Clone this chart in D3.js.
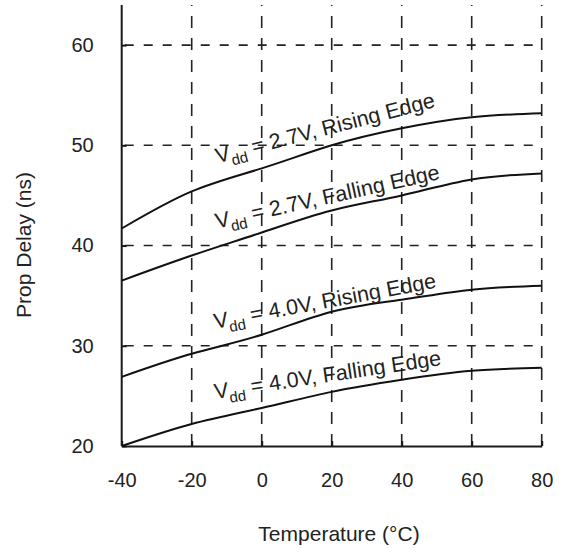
<!DOCTYPE html>
<html>
<head>
<meta charset="utf-8">
<script src="https://d3js.org/d3.v7.min.js"></script>
<style>
  body { margin: 0; background: #fff; }
  svg { display: block; font-family: "Liberation Sans", Arial, sans-serif; }
  .axis-line { stroke: #1a1a1a; stroke-width: 2; fill: none; }
  .grid { stroke: #222; stroke-width: 1.6; fill: none; }
  .curve { stroke: #111; stroke-width: 2; fill: none; }
  .tick-label, .title, .note { fill: #222; }
</style>
</head>
<body>
<div id="chart"></div>
<script>
// data
var temps = [-40, -20, 0, 20, 40, 60, 80];
var rise27 = [41.7, 45.4, 47.7, 50.0, 51.7, 52.8, 53.2];
var fall27 = [36.5, 39.0, 41.3, 43.5, 45.0, 46.6, 47.2];
var rise40 = [26.9, 29.2, 31.1, 33.4, 34.6, 35.6, 36.0];
var fall40 = [20.0, 22.2, 23.8, 25.4, 26.6, 27.5, 27.8];
var xTicks = [-40, -20, 0, 20, 40, 60, 80];
var yTicks = [20, 30, 40, 50, 60];
var seriesNames = ["2.7V, Rising Edge", "2.7V, Falling Edge", "4.0V, Rising Edge", "4.0V, Falling Edge"];

var width = 565, height = 552;
var margin = { top: 5, left: 121.7, right: 23.3, bottom: 106 };

var x = d3.scaleLinear().domain([-40, 80]).range([margin.left, width - margin.right]);
var y = d3.scaleLinear().domain([20, 64]).range([height - margin.bottom, margin.top]);

var svg = d3.select("#chart").append("svg")
    .attr("width", width)
    .attr("height", height);

// dashed grid
svg.selectAll(".hgrid")
    .data(yTicks.slice(1))
    .enter().append("line")
    .attr("class", "grid")
    .attr("x1", x(-40)).attr("x2", x(80))
    .attr("y1", function (d) { return y(d); })
    .attr("y2", function (d) { return y(d); })
    .attr("stroke-dasharray", "9,10")
    .attr("stroke-dashoffset", 16);

svg.selectAll(".vgrid")
    .data(xTicks.slice(1))
    .enter().append("line")
    .attr("class", "grid")
    .attr("x1", function (d) { return x(d); })
    .attr("x2", function (d) { return x(d); })
    .attr("y1", y(64)).attr("y2", y(20))
    .attr("stroke-dasharray", "12,10")
    .attr("stroke-dashoffset", 11);

// axes (plain hyphen for negatives, like the original)
var fmt = function (d) { return String(d); };
var xAxis = d3.axisBottom(x).tickValues(xTicks).tickFormat(fmt).tickSize(-5).tickSizeOuter(0).tickPadding(27);
var yAxis = d3.axisLeft(y).tickValues(yTicks).tickFormat(fmt).tickSize(-5).tickSizeOuter(0).tickPadding(28);

var gx = svg.append("g").attr("transform", "translate(0," + y(20) + ")").call(xAxis);
var gy = svg.append("g").attr("transform", "translate(" + x(-40) + ",0)").call(yAxis);

[gx, gy].forEach(function (g) {
    g.select(".domain").attr("class", "domain axis-line");
    g.selectAll(".tick line").attr("stroke", "#1a1a1a").attr("stroke-width", 2);
    g.selectAll(".tick text")
        .attr("class", "tick-label")
        .attr("fill", "#222")
        .style("font-size", "20px")
        .style("font-family", "'Liberation Sans', Arial, sans-serif");
});
gy.select(".domain").attr("d", "M0," + y(64) + "V" + y(20));

// curves
var line = d3.line()
    .x(function (d, i) { return x(temps[i]); })
    .y(function (d) { return y(d); })
    .curve(d3.curveNatural);

var allSeries = [rise27, fall27, rise40, fall40];
svg.selectAll(".curve")
    .data(allSeries)
    .enter().append("path")
    .attr("class", "curve")
    .attr("d", line);

// curve labels: start point (temp, value) and tilt
var labelPos = [
    { t: -12.6, v: 48.2, a: -14.5 },
    { t: -12.8, v: 41.7, a: -12.5 },
    { t: -13.3, v: 31.7, a: -10.5 },
    { t: -13.3, v: 24.7, a: -8.5 }
];

labelPos.forEach(function (p, i) {
    var t = svg.append("text")
        .attr("class", "note")
        .attr("transform", "translate(" + x(p.t) + "," + y(p.v) + ") rotate(" + p.a + ")")
        .style("font-size", "21.5px");
    t.append("tspan").text("V");
    t.append("tspan").attr("dy", 6).style("font-size", "15px").text("dd");
    t.append("tspan").attr("dy", -6).text(" = " + seriesNames[i]);
});

// axis titles
svg.append("text")
    .attr("class", "title")
    .attr("x", 339)
    .attr("y", 541)
    .attr("text-anchor", "middle")
    .style("font-size", "21px")
    .text("Temperature (\u00b0C)");

svg.append("text")
    .attr("class", "title")
    .attr("transform", "translate(31,245) rotate(-90)")
    .attr("text-anchor", "middle")
    .style("font-size", "21px")
    .text("Prop Delay (ns)");
</script>
</body>
</html>
